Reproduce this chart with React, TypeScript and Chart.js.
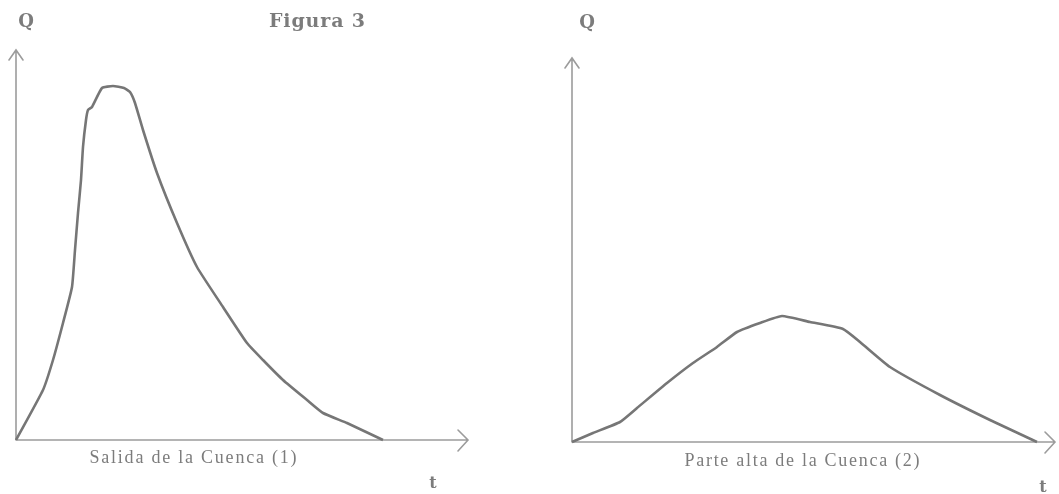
import React, { useEffect, useRef } from "react";
import { Chart, registerables } from "chart.js";

Chart.register(...registerables);

// Salida de la Cuenca (1): time t, discharge Q (arbitrary units)
const LEFT_T = [0, 2.7, 3.7, 4.7, 5.6, 5.9, 6.2, 6.5, 6.7, 7.0, 7.2, 7.6, 8.6, 9.7, 10.8, 11.4, 11.9, 12.7, 14.1, 16.1, 18.1, 20.7, 23.1, 24.7, 26.7, 29.1, 30.7, 33.1, 36.7];
const LEFT_Q = [0, 5.0, 8.0, 11.7, 15.3, 19.0, 22.7, 26.0, 29.3, 32.0, 33.0, 33.3, 35.2, 35.4, 35.2, 34.8, 33.7, 31.0, 26.7, 21.7, 17.3, 13.3, 9.7, 8.0, 6.0, 4.0, 2.7, 1.7, 0];

// Parte alta de la Cuenca (2)
const RIGHT_T = [0, 2.1, 4.8, 6.5, 9.5, 12.1, 14.5, 16.5, 18.8, 21.0, 23.8, 27.1, 28.8, 31.8, 36.8, 41.8, 46.5];
const RIGHT_Q = [0, 0.9, 2.0, 3.4, 5.9, 7.9, 9.5, 11.0, 11.9, 12.6, 12.0, 11.3, 10.0, 7.5, 4.7, 2.2, 0];

// axis extents (t max, Q max)
const LEFT_EXTENT = [45.2, 39];
const RIGHT_EXTENT = [48.3, 38.4];

const TITLE = "Figura 3";
const Y_LABEL = "Q";
const X_LABEL = "t";
const LEFT_CAPTION = "Salida de la Cuenca (1)";
const RIGHT_CAPTION = "Parte alta de la Cuenca (2)";

type TextItem = { text: string; cx: number; cy: number; font: string; width?: number };

function drawFitted(ctx: CanvasRenderingContext2D, t: TextItem) {
  ctx.font = t.font;
  ctx.textBaseline = "middle";
  if (!t.width) {
    ctx.textAlign = "center";
    ctx.fillText(t.text, t.cx, t.cy);
    return;
  }
  const chars = Array.from(t.text);
  const widths = chars.map((c) => ctx.measureText(c).width);
  const total = widths.reduce((a, b) => a + b, 0);
  const extra = chars.length > 1 ? (t.width - total) / (chars.length - 1) : 0;
  let x = t.cx - t.width / 2;
  ctx.textAlign = "left";
  chars.forEach((c, i) => {
    ctx.fillText(c, x, t.cy);
    x += widths[i] + extra;
  });
}

function makePlugin(texts: TextItem[]) {
  return {
    id: "sketchAxes",
    beforeDatasetsDraw(chart: any) {
      const ctx: CanvasRenderingContext2D = chart.ctx;
      const xs = chart.scales.x;
      const ys = chart.scales.y;
      const x0 = xs.getPixelForValue(0);
      const y0 = ys.getPixelForValue(0);
      const x1 = xs.getPixelForValue(xs.max);
      const y1 = ys.getPixelForValue(ys.max);
      ctx.save();
      ctx.strokeStyle = "#9c9c9c";
      ctx.lineWidth = 1.6;
      ctx.lineCap = "round";
      ctx.beginPath();
      // y axis
      ctx.moveTo(x0, y0);
      ctx.lineTo(x0, y1);
      ctx.moveTo(x0 - 7, y1 + 10);
      ctx.lineTo(x0, y1);
      ctx.lineTo(x0 + 7, y1 + 10);
      // x axis
      ctx.moveTo(x0, y0);
      ctx.lineTo(x1, y0);
      ctx.moveTo(x1 - 10, y0 - 10);
      ctx.lineTo(x1, y0);
      ctx.lineTo(x1 - 10, y0 + 11);
      ctx.stroke();
      ctx.restore();
    },
    afterDraw(chart: any) {
      const ctx: CanvasRenderingContext2D = chart.ctx;
      ctx.save();
      ctx.fillStyle = "#7c7c7c";
      texts.forEach((t) => drawFitted(ctx, t));
      ctx.restore();
    },
  };
}

function Panel(props: {
  t: number[];
  q: number[];
  extent: number[];
  width: number;
  padding: { left: number; right: number; top: number; bottom: number };
  texts: TextItem[];
}) {
  const ref = useRef<HTMLCanvasElement | null>(null);
  useEffect(() => {
    if (!ref.current) return;
    const data = props.t.map((x, i) => ({ x, y: props.q[i] }));
    const chart = new Chart(ref.current, {
      type: "line",
      data: {
        datasets: [
          {
            data,
            borderColor: "#767676",
            borderWidth: 2.6,
            pointRadius: 0,
            tension: 0.15,
            fill: false,
            clip: false as any,
          },
        ],
      },
      options: {
        animation: false,
        responsive: false,
        events: [],
        layout: { padding: props.padding },
        plugins: { legend: { display: false }, tooltip: { enabled: false }, title: { display: false } },
        scales: {
          x: { type: "linear", min: 0, max: props.extent[0], display: false },
          y: { type: "linear", min: 0, max: props.extent[1], display: false },
        },
      },
      plugins: [makePlugin(props.texts)],
    });
    return () => chart.destroy();
  }, []);
  return <canvas ref={ref} width={props.width} height={494} style={{ display: "block", width: props.width, height: 494 }} />;
}

export default function App() {
  const bold = "bold 18px 'DejaVu Serif'";
  const cap = "18px 'Liberation Serif'";
  return (
    <div style={{ position: "fixed", left: 0, top: 0, width: 1059, height: 494, display: "flex", background: "#fff" }}>
      <Panel
        t={LEFT_T}
        q={LEFT_Q}
        extent={LEFT_EXTENT}
        width={530}
        padding={{ left: 16, right: 62, top: 50, bottom: 54 }}
        texts={[
          { text: Y_LABEL, cx: 26, cy: 22, font: bold },
          { text: TITLE, cx: 317, cy: 22, font: "bold 19px 'DejaVu Serif'", width: 96 },
          { text: LEFT_CAPTION, cx: 193, cy: 458, font: cap, width: 207 },
          { text: X_LABEL, cx: 433, cy: 484, font: "bold 16px 'DejaVu Serif'" },
        ]}
      />
      <Panel
        t={RIGHT_T}
        q={RIGHT_Q}
        extent={RIGHT_EXTENT}
        width={529}
        padding={{ left: 42, right: 4, top: 58, bottom: 52 }}
        texts={[
          { text: Y_LABEL, cx: 57, cy: 23, font: bold },
          { text: RIGHT_CAPTION, cx: 272, cy: 461, font: cap, width: 235 },
          { text: X_LABEL, cx: 513, cy: 488, font: "bold 16px 'DejaVu Serif'" },
        ]}
      />
    </div>
  );
}
